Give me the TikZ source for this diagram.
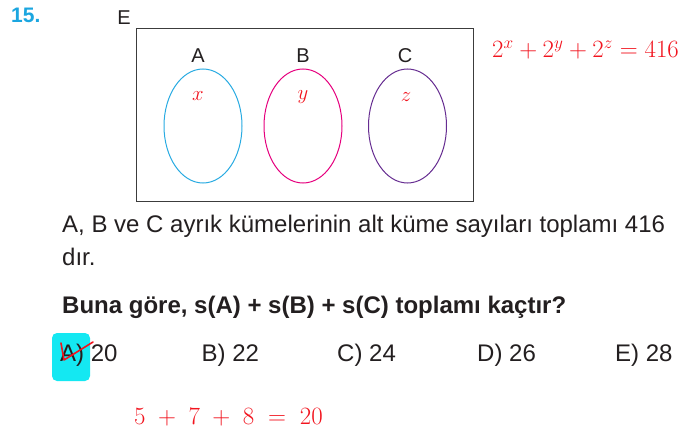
\documentclass[tikz,border=0pt]{standalone}
\usepackage{fontspec}
\setmainfont{Liberation Sans}
\begin{document}
\begin{tikzpicture}[x=1pt,y=-1pt,
  txt/.style={text=textgray,inner sep=0pt,font=\fontsize{24}{28}\selectfont},
  lbl/.style={text=textgray,inner sep=0pt,font=\fontsize{20}{24}\selectfont},
  hand/.style={text=handred,inner sep=0pt},
  setA/.style={draw=cyanA,line width=1pt},
  setB/.style={draw=magB,line width=1pt},
  setC/.style={draw=purC,line width=1pt}]
\definecolor{textgray}{HTML}{231F20}
\definecolor{cyanA}{HTML}{29ABE2}
\definecolor{magB}{HTML}{E6007E}
\definecolor{purC}{HTML}{662D91}
\definecolor{handred}{HTML}{F2141E}
\definecolor{qcyan}{HTML}{1BA6E0}
\definecolor{hl}{HTML}{14E8F2}
\definecolor{boxgray}{HTML}{3C3C3C}
\useasboundingbox[fill=white] (0,0) rectangle (686,428);
% question number
\node[anchor=base west,inner sep=0pt,text=qcyan,font=\fontsize{21}{24}\selectfont\bfseries] (num) at (11,23) {15.};
% universe
\node[lbl,anchor=base] (E) at (124,25) {E};
\node[draw=boxgray,line width=1pt,minimum width=337pt,minimum height=172pt,inner sep=0pt] (U) at (304.5,115) {};
\node[lbl,anchor=base] (la) at (198,63) {A};
\node[lbl,anchor=base] (lb) at (303,63) {B};
\node[lbl,anchor=base] (lc) at (405,63) {C};
\draw[setA] (203,126) ellipse [x radius=39, y radius=57];
\draw[setB] (303,126) ellipse [x radius=39, y radius=57];
\draw[setC] (407.5,126) ellipse [x radius=39, y radius=57];
\node[hand,font=\fontsize{21}{22}\selectfont] (hx) at (198,96) {$x$};
\node[hand,font=\fontsize{21}{22}\selectfont] (hy) at (303,97) {$y$};
\node[hand,font=\fontsize{21}{22}\selectfont] (hz) at (406,97) {$z$};
% equation
\node[hand,font=\fontsize{24}{26}\selectfont,anchor=base west] (eq) at (492,58) {$2^{x}+2^{y}+2^{z}=416$};
% statement
\node[txt,anchor=base west] (p1) at (62,232) {A, B ve C ayrık kümelerinin alt küme sayıları toplamı 416};
\node[txt,anchor=base west] (p2) at (62,265) {dır.};
\node[txt,anchor=base west,font=\fontsize{24}{28}\selectfont\bfseries] (q) at (62,313) {Buna göre, s(A) + s(B) + s(C) toplamı kaçtır?};
% answers
\fill[hl,rounded corners=5pt] (52,333) rectangle (90,381);
\node[txt,anchor=base west] (ansA) at (60,361.5) {A) 20};
\node[txt,anchor=base west] (ansB) at (201.5,361.5) {B) 22};
\node[txt,anchor=base west] (ansC) at (337,361.5) {C) 24};
\node[txt,anchor=base west] (ansD) at (477,361.5) {D) 26};
\node[txt,anchor=base west] (ansE) at (615,361.5) {E) 28};
\draw[handred,line width=1.6pt,line cap=round,line join=round] (61,343) -- (64,360) -- (93,342);
% handwritten sum
\node[hand,font=\fontsize{30}{32}\selectfont,anchor=base west] (sum) at (134,424) {$5\hspace{7pt}+\hspace{7pt}7\hspace{7pt}+\hspace{7pt}8\hspace{7pt}=\hspace{7pt}20$};
\end{tikzpicture}
\end{document}
